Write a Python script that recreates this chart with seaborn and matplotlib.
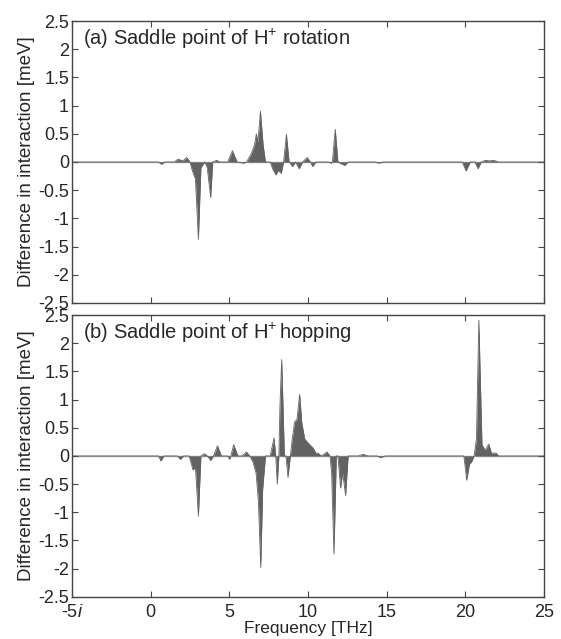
import matplotlib
matplotlib.use("Agg")
import matplotlib.pyplot as plt
import seaborn as sns
import pandas as pd

# Panel (a): Saddle point of H+ rotation
freq_a = [-5, 0.5, 0.7, 0.9, 1.5, 1.75, 2.05, 2.3, 2.5, 2.65, 2.85, 3.04, 3.2, 3.45, 3.6, 3.82,
          3.95, 4.2, 4.4, 4.9, 5.2, 5.5, 5.9, 6.1, 6.4, 6.6, 6.72, 6.82, 6.98, 7.15, 7.3, 7.6,
          7.8, 7.97, 8.1, 8.3, 8.45, 8.63, 8.8, 9.03, 9.2, 9.45, 9.65, 9.95, 10.15, 10.3, 10.5,
          11.3, 11.46, 11.55, 11.73, 11.9, 12.1, 12.34, 12.55, 14.3, 14.5, 14.8, 19.8, 20.04,
          20.3, 20.6, 20.8, 21.0, 21.27, 21.5, 21.8, 22.1, 25]
diff_a = [0, 0, -0.04, 0, 0, 0.05, 0.02, 0.08, 0, -0.15, -0.3, -1.37, -0.1, 0, -0.1, -0.63,
          0, 0.03, 0, 0, 0.2, 0, -0.02, 0, 0.15, 0.3, 0.5, 0.35, 0.9, 0.3, 0, 0,
          -0.15, -0.23, -0.15, -0.2, 0, 0.49, 0, -0.08, 0, -0.12, 0, 0.08, 0, -0.08, 0,
          0, -0.02, 0, 0.58, 0, -0.03, -0.06, 0, 0, -0.02, 0, 0, -0.16,
          0, 0, -0.12, 0, 0.03, 0.02, 0.03, 0, 0]

# Panel (b): Saddle point of H+ hopping
freq_b = [-5, 0.5, 0.66, 0.85, 1.7, 1.9, 2.1, 2.45, 2.7, 2.85, 3.04, 3.2, 3.44, 3.6, 3.82, 4.0,
          4.25, 4.5, 4.9, 5.03, 5.1, 5.28, 5.55, 5.8, 6.1, 6.3, 6.5, 6.7, 6.85, 7.0, 7.12, 7.3,
          7.6, 7.84, 7.95, 8.05, 8.15, 8.22, 8.33, 8.5, 8.6, 8.73, 8.88, 9.0, 9.15, 9.3, 9.47,
          9.6, 9.79, 10.1, 10.3, 10.5, 10.63, 10.85, 11.2, 11.4, 11.5, 11.65, 11.8, 11.9, 12.07,
          12.2, 12.39, 12.55, 13.2, 13.5, 13.8, 14.4, 14.6, 14.9, 19.9, 20.08, 20.25, 20.4,
          20.55, 20.7, 20.85, 21.05, 21.25, 21.48, 21.65, 21.8, 21.95, 22.1, 25]
diff_b = [0, 0, -0.09, 0, 0, -0.06, 0, 0, -0.25, -0.2, -1.07, 0, 0.04, 0, -0.08, 0,
          0.18, 0, 0, -0.06, 0, 0.2, 0, 0, 0.07, 0, -0.1, -0.3, -0.8, -1.98, -0.6, 0,
          0, 0.32, 0, -0.5, 0, 0.9, 1.71, 0, 0, -0.38, 0, 0.3, 0.6, 0.65, 1.09,
          0.6, 0.3, 0.2, 0.15, 0.05, 0.05, 0, 0.07, 0, -0.3, -1.74, 0, 0, -0.57,
          -0.3, -0.7, 0, 0, 0.03, 0, 0, -0.03, 0, 0, -0.43, -0.15, -0.1,
          0, 0.3, 2.41, 0.2, 0.1, 0.21, 0.05, 0.05, 0.05, 0, 0]

titles = ["(a) Saddle point of H$^{+}$ rotation", "(b) Saddle point of H$^{+}\\,$hopping"]
x_ticks = [-5, 0, 5, 10, 15, 20, 25]
x_ticklabels = ["-5$\\mathit{i}$", "0", "5", "10", "15", "20", "25"]
y_ticks = [2.5, 2, 1.5, 1, 0.5, 0, -0.5, -1, -1.5, -2, -2.5]
y_ticklabels = ["2.5", "2", "1.5", "1", "0.5", "0", "-0.5", "-1", "-1.5", "-2", "-2.5"]

sns.set_theme(style="white")
plt.rcParams["font.family"] = ["Liberation Sans", "DejaVu Sans"]
plt.rcParams["mathtext.fontset"] = "custom"
plt.rcParams["mathtext.rm"] = "Liberation Sans"
plt.rcParams["mathtext.it"] = "Liberation Sans:italic"
plt.rcParams["mathtext.default"] = "regular"
plt.rcParams["axes.unicode_minus"] = False

fig = plt.figure(figsize=(5.61, 6.39), dpi=100)
ax_a = fig.add_axes([0.128, 0.526, 0.842, 0.441])
ax_b = fig.add_axes([0.128, 0.066, 0.842, 0.441])

txt_col = "#262626"
fill_col = "#626262"
for ax, fr, df_vals, title in [(ax_a, freq_a, diff_a, titles[0]), (ax_b, freq_b, diff_b, titles[1])]:
    df = pd.DataFrame({"freq": fr, "diff": df_vals})
    ax.fill_between(df["freq"], df["diff"], 0, color=fill_col, linewidth=0)
    sns.lineplot(data=df, x="freq", y="diff", ax=ax, color=fill_col, linewidth=0.6)
    ax.axhline(0, color="#a0a0a0", linewidth=1.0, zorder=0.5)
    ax.set_xlim(-5, 25)
    ax.set_ylim(-2.5, 2.5)
    ax.set_xticks(x_ticks)
    ax.set_yticks(y_ticks)
    ax.set_yticklabels(y_ticklabels, fontsize=13, color=txt_col)
    ax.tick_params(axis="both", direction="in", length=4, width=0.8, top=True, right=True,
                   bottom=True, left=True, color="#444444")
    ax.tick_params(axis="y", pad=2)
    ax.tick_params(axis="x", pad=5)
    for s in ax.spines.values():
        s.set_color("#444444")
        s.set_linewidth(1.0)
    ax.set_ylabel("Difference in interaction [meV]", fontsize=13.5, color=txt_col, labelpad=2)
    ax.text(0.023, 0.978, title, transform=ax.transAxes, fontsize=14.5, va="top", ha="left",
            color=txt_col)

ax_a.set_xticklabels([])
ax_a.set_xlabel("")
ax_b.set_xticklabels(x_ticklabels, fontsize=13, color=txt_col)
ax_b.set_xlabel("Frequency [THz]", fontsize=12.5, color=txt_col, labelpad=0)

fig.savefig("out.png", dpi=100)
